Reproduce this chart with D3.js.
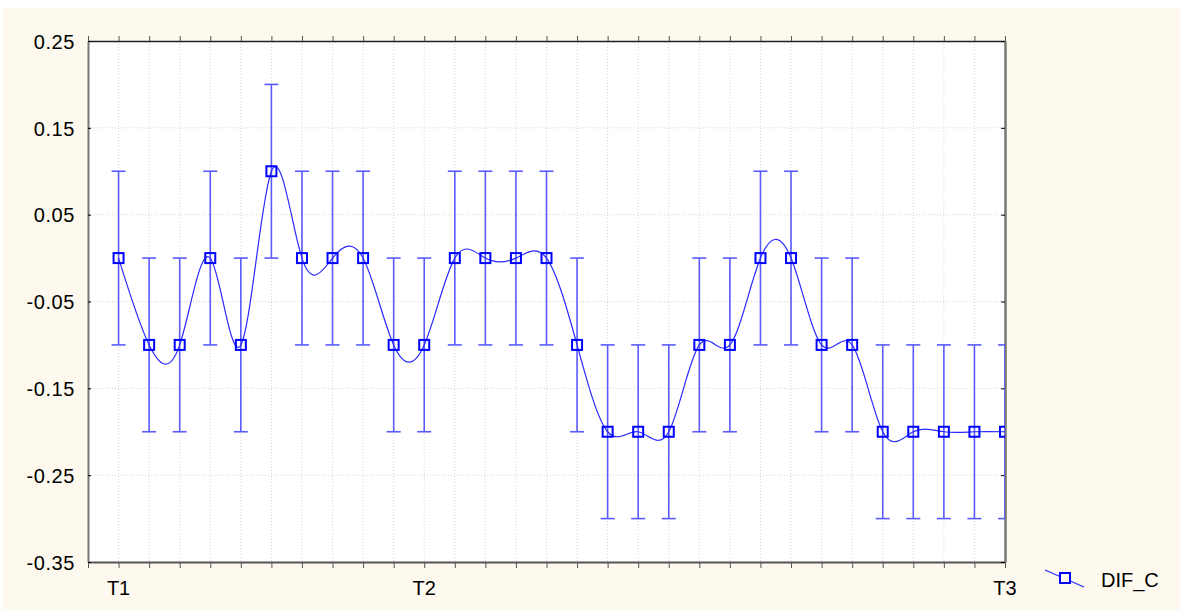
<!DOCTYPE html>
<html lang="en">
<head>
    <meta charset="UTF-8">
    <title>DIF_C</title>
    <style>
        body { margin: 0; background: #ffffff; }
        svg { display: block; font-family: "Liberation Sans", Arial, sans-serif; }
        .grid line { stroke: #d4d4d4; stroke-dasharray: 1, 2; }
    </style>
</head>
<body>
<svg id="chart" width="1180" height="612"></svg>
<script src="https://cdnjs.cloudflare.com/ajax/libs/d3/7.8.5/d3.min.js"></script>
<script>
    // data
    const points = d3.range(30);
    const means = [0, -0.1, -0.1, 0, -0.1, 0.1, 0, 0, 0, -0.1,
        -0.1, 0, 0, 0, 0, -0.1, -0.2, -0.2, -0.2, -0.1,
        -0.1, 0, 0, -0.1, -0.1, -0.2, -0.2, -0.2, -0.2, -0.2];
    const errors = [0.1, 0.1, 0.1, 0.1, 0.1, 0.1, 0.1, 0.1, 0.1, 0.1,
        0.1, 0.1, 0.1, 0.1, 0.1, 0.1, 0.1, 0.1, 0.1, 0.1,
        0.1, 0.1, 0.1, 0.1, 0.1, 0.1, 0.1, 0.1, 0.1, 0.1];
    const xLabels = [{i: 0, text: "T1"}, {i: 10, text: "T2"}, {i: 29, text: "T3"}];
    const yTicks = [0.25, 0.15, 0.05, -0.05, -0.15, -0.25, -0.35];
    const seriesName = "DIF_C";

    const plotLeft = 88, plotRight = 1005, plotTop = 41, plotBottom = 562;

    const svg = d3.select("#chart");
    svg.append("rect").attr("x", 3).attr("y", 8).attr("width", 1177).attr("height", 602).attr("fill", "#fdf9ee");
    svg.append("rect").attr("x", plotLeft).attr("y", plotTop).attr("width", plotRight - plotLeft)
        .attr("height", plotBottom - plotTop).attr("fill", "#ffffff");

    const x = d3.scaleLinear().domain([-1, 29]).range([plotLeft, plotRight]);
    const y = d3.scaleLinear().domain([-0.35, 0.25]).range([plotBottom, plotTop]);

    // grid
    const grid = svg.append("g").attr("class", "grid");
    grid.selectAll("line.v").data(d3.range(0, 29)).enter().append("line")
        .attr("x1", d => x(d)).attr("x2", d => x(d)).attr("y1", plotTop).attr("y2", plotBottom);
    grid.selectAll("line.h").data(yTicks.slice(1, -1)).enter().append("line")
        .attr("x1", plotLeft).attr("x2", plotRight).attr("y1", d => y(d)).attr("y2", d => y(d));

    // axes
    const xTickVals = d3.range(-1, 30);
    const fmt = d => d3.format(".2f")(d).replace("\u2212", "-");
    svg.append("g").attr("transform", `translate(0,${plotBottom})`)
        .call(d3.axisBottom(x).tickValues(xTickVals).tickSize(6).tickSizeOuter(0).tickFormat(""))
        .call(g => g.select(".domain").attr("stroke", "#555").attr("stroke-width", 2))
        .call(g => g.selectAll(".tick line").attr("stroke", "#555"));
    svg.append("g").attr("transform", `translate(0,${plotTop})`)
        .call(d3.axisTop(x).tickValues(xTickVals).tickSize(5).tickSizeOuter(0).tickFormat(""))
        .call(g => g.select(".domain").attr("stroke", "#222").attr("stroke-width", 1.5))
        .call(g => g.selectAll(".tick line").attr("stroke", "#555"));
    svg.append("g").attr("transform", `translate(${plotLeft},0)`)
        .call(d3.axisLeft(y).tickValues(yTicks).tickSize(-3).tickSizeOuter(0).tickPadding(13).tickFormat(fmt))
        .call(g => g.select(".domain").attr("stroke", "#777").attr("stroke-width", 2))
        .call(g => g.selectAll("text").attr("font-size", 20).attr("fill", "#000")
            .attr("letter-spacing", 0.6).attr("dy", "0.36em")
            .attr("font-family", "Liberation Sans, Arial, sans-serif"));
    svg.append("g").attr("transform", `translate(${plotRight},0)`)
        .call(d3.axisRight(y).tickValues(yTicks).tickSize(-4).tickSizeOuter(0).tickFormat(""))
        .call(g => g.select(".domain").attr("stroke", "#777").attr("stroke-width", 2.5));

    svg.selectAll("text.xlab").data(xLabels).enter().append("text")
        .attr("x", d => x(d.i)).attr("y", 595).attr("text-anchor", "middle")
        .attr("font-size", 20).text(d => d.text);

    // plot contents
    svg.append("clipPath").attr("id", "clip").append("rect")
        .attr("x", plotLeft).attr("y", plotTop).attr("width", plotRight - plotLeft).attr("height", plotBottom - plotTop);
    const plot = svg.append("g").attr("clip-path", "url(#clip)");

    const bars = plot.selectAll("g.err").data(points).enter().append("g")
        .attr("stroke", "#5a5aff").attr("stroke-width", 1.6);
    bars.append("line").attr("x1", i => x(i)).attr("x2", i => x(i))
        .attr("y1", i => y(means[i] + errors[i])).attr("y2", i => y(means[i] - errors[i]));
    bars.append("line").attr("x1", i => x(i) - 7).attr("x2", i => x(i) + 7)
        .attr("y1", i => y(means[i] + errors[i])).attr("y2", i => y(means[i] + errors[i]));
    bars.append("line").attr("x1", i => x(i) - 7).attr("x2", i => x(i) + 7)
        .attr("y1", i => y(means[i] - errors[i])).attr("y2", i => y(means[i] - errors[i]));

    const line = d3.line().x(i => x(i)).y(i => y(means[i])).curve(d3.curveNatural);
    plot.append("path").attr("d", line(points)).attr("fill", "none")
        .attr("stroke", "#2a2aff").attr("stroke-width", 1.2);

    plot.selectAll("rect.m").data(points).enter().append("rect")
        .attr("x", i => x(i) - 5).attr("y", i => y(means[i]) - 5)
        .attr("width", 10).attr("height", 10)
        .attr("fill", "none").attr("stroke", "#0000ff").attr("stroke-width", 2);

    // legend
    const lg = svg.append("g");
    lg.append("line").attr("x1", 1045).attr("y1", 570).attr("x2", 1084).attr("y2", 587)
        .attr("stroke", "#2a2aff").attr("stroke-width", 1.2);
    lg.append("rect").attr("x", 1060).attr("y", 573).attr("width", 10).attr("height", 10)
        .attr("fill", "#fdf9ee").attr("stroke", "#0000ff").attr("stroke-width", 2);
    lg.append("text").attr("x", 1101).attr("y", 587).attr("font-size", 20).text(seriesName);
</script>
</body>
</html>
